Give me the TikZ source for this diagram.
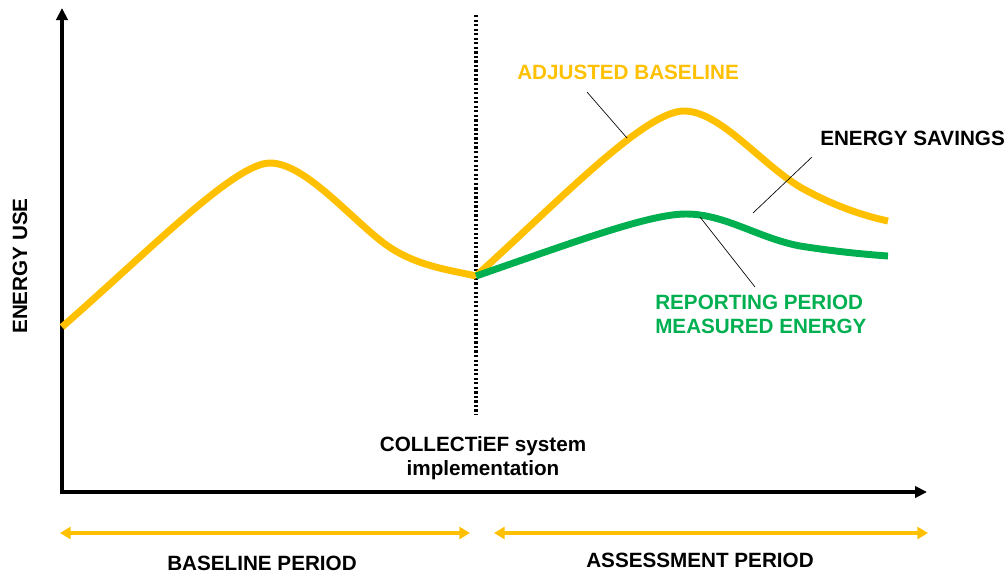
\documentclass[tikz,border=0pt]{standalone}
\usepackage{fontspec}
\setmainfont{Liberation Sans}
\usetikzlibrary{arrows.meta}
\definecolor{baseyellow}{HTML}{FFC000}
\definecolor{measgreen}{HTML}{00B050}

\begin{document}
\begin{tikzpicture}[x=0.75pt,y=-0.75pt,
        axis/.style={line width=2.8pt,-{Triangle[length=9pt,width=8.5pt]}},
        curve/.style={line width=5.2pt,line join=round},
        leader/.style={line width=0.5pt},
        period/.style={draw=baseyellow,line width=3pt,{Triangle[length=8pt,width=9pt]}-{Triangle[length=8pt,width=9pt]}},
        every node/.style={font=\bfseries\fontsize{15.5}{18}\selectfont,inner sep=0pt}]

    \useasboundingbox (0,0) rectangle (1007,576);

    \coordinate (origin) at (62,492);
    \coordinate (ytip) at (62,8);
    \coordinate (xtip) at (927,492);
    \draw[axis] (origin) -- (ytip);
    \draw[axis] ([xshift=-1.4pt]origin) -- (xtip);

    \node[rotate=90] (energyuse) at (20,266) {ENERGY USE};

    \coordinate (impltop) at (476,15);
    \coordinate (implbot) at (476,415);
    \draw[line width=2.3pt,dash pattern=on 1.7pt off 1.7pt] (impltop) -- (implbot);
    \node[align=center] (impl) at (483,458) {COLLECTiEF system\\implementation};

    \coordinate (start) at (62,327);
    \coordinate (peak1) at (270,163);
    \coordinate (knee1) at (385,244);
    \coordinate (switch) at (476,276);
    \coordinate (peak2) at (684,111);
    \coordinate (knee2) at (800,187);
    \coordinate (end2) at (888,221);
    \coordinate (peak3) at (686,214);
    \coordinate (knee3) at (800,246);
    \coordinate (end3) at (888,256);

    \draw[curve,baseyellow] (start) .. controls (150,250) and (235,163) .. (peak1)
        .. controls (305,163) and (350,218) .. (knee1)
        .. controls (415,266) and (450,270) .. (switch);
    \draw[curve,baseyellow] (switch) .. controls (560,200) and (645,111) .. (peak2)
        .. controls (720,111) and (760,163) .. (knee2)
        .. controls (830,204) and (860,215) .. (end2);
    \draw[curve,measgreen] (switch) .. controls (580,240) and (650,214) .. (peak3)
        .. controls (725,214) and (758,238) .. (knee3)
        .. controls (832,251) and (860,254) .. (end3);

    \node[anchor=west,text=baseyellow] (adjusted) at (517,72) {ADJUSTED BASELINE};
    \node[anchor=west] (savings) at (820,138) {ENERGY SAVINGS};
    \node[anchor=north west,align=left,text=measgreen] (reporting) at (655,295) {REPORTING PERIOD\\MEASURED ENERGY};

    \coordinate (adjA) at (587,92);
    \coordinate (adjB) at (627,138);
    \coordinate (savA) at (812,157);
    \coordinate (savB) at (753,213);
    \coordinate (repA) at (700,217);
    \coordinate (repB) at (755,287);
    \draw[leader] (adjA) -- (adjB);
    \draw[leader] (savA) -- (savB);
    \draw[leader] (repA) -- (repB);

    \coordinate (blL) at (60,533);
    \coordinate (blR) at (470,533);
    \coordinate (asL) at (494,533);
    \coordinate (asR) at (928,533);
    \draw[period] (blL) -- (blR);
    \draw[period] (asL) -- (asR);
    \node (baseline) at (262,563) {BASELINE PERIOD};
    \node (assessment) at (700,560) {ASSESSMENT PERIOD};
\end{tikzpicture}
\end{document}
